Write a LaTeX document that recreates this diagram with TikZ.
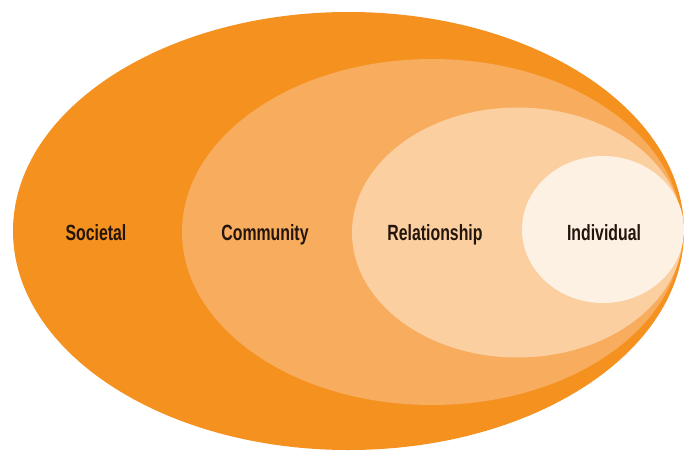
\documentclass[tikz,border=0pt]{standalone}
\usepackage{fontspec}
\setmainfont{Liberation Sans}[FakeStretch=0.72]
\begin{document}
\begin{tikzpicture}[x=1pt,y=-1pt,
  ring/.style={draw=none},
  lbl/.style={font=\bfseries\fontsize{22}{24}\selectfont, text=labelink, inner sep=0pt, anchor=base}]
\definecolor{societal}{HTML}{F5911F}
\definecolor{community}{HTML}{F7AC5E}
\definecolor{relation}{HTML}{FBCF9F}
\definecolor{individ}{HTML}{FDF1E4}
\definecolor{labelink}{HTML}{24150C}
\useasboundingbox[fill=white] (0,0) rectangle (684,455);
% nested levels of the model, outermost first
\fill[societal]  (348.5,231) ellipse [x radius=335.5, y radius=219];
\fill[community] (432,232)   ellipse [x radius=250,   y radius=173];
\fill[relation]  (517.5,232.5) ellipse [x radius=165.5, y radius=125];
\fill[individ]   (603,229.5) ellipse [x radius=81,    y radius=73.5];
% level names
\node[lbl] (soc) at (96,240)  {Societal};
\node[lbl] (com) at (265,240) {Community};
\node[lbl] (rel) at (435,240) {Relationship};
\node[lbl] (ind) at (604,240) {Individual};
\end{tikzpicture}
\end{document}
